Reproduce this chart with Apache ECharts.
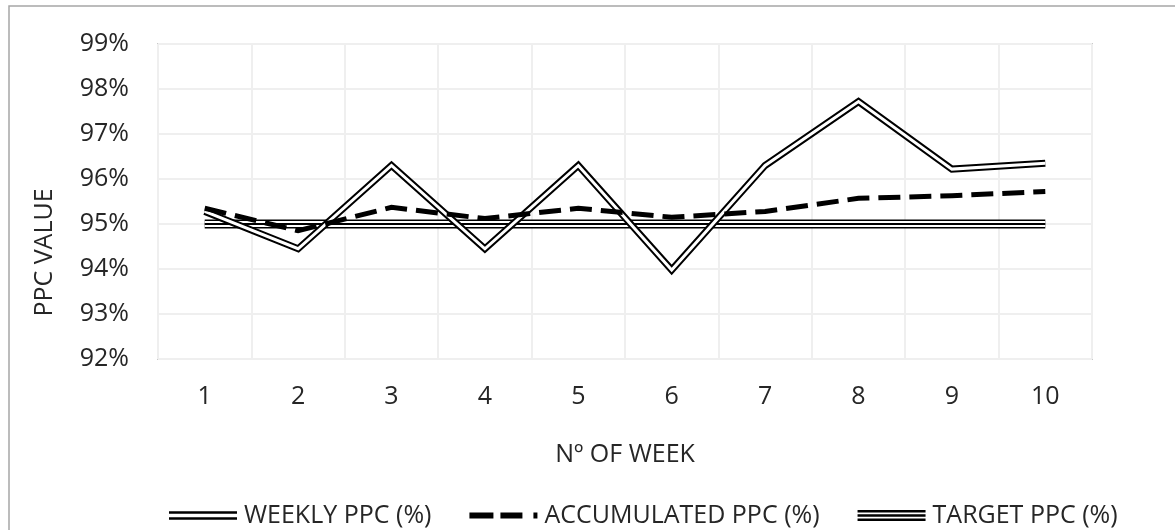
<!DOCTYPE html>
<html>
<head>
<meta charset="utf-8">
<script src="https://cdn.jsdelivr.net/npm/echarts@6/dist/echarts.min.js"></script>
<style>
html,body{margin:0;padding:0;background:#fff;}
#chart{width:1175px;height:530px;}
</style>
</head>
<body>
<div id="chart"></div>
<script>
var weeks = ['1','2','3','4','5','6','7','8','9','10'];
var weeklyPPC = [95.28, 94.45, 96.3, 94.45, 96.3, 93.98, 96.3, 97.72, 96.22, 96.35];
var accumulatedPPC = [95.35, 94.85, 95.37, 95.12, 95.35, 95.15, 95.28, 95.57, 95.63, 95.72];
var targetPPC = [95, 95, 95, 95, 95, 95, 95, 95, 95, 95];
var yMin = 92, yMax = 99, yStep = 1;

var FONT = 'Open Sans';
var TXT = '#262626';
var chart = echarts.init(document.getElementById('chart'), null, {renderer: 'canvas'});

function lineSeries(name, data, color, width, type, z) {
  return {
    name: name, type: 'line', data: data, symbol: 'none', z: z,
    silent: true, animation: false,
    lineStyle: {color: color, width: width, type: type || 'solid', cap: 'butt', join: 'miter'},
    itemStyle: {color: color}
  };
}

var option = {
  backgroundColor: '#fff',
  animation: false,
  graphic: [{
    type: 'rect', silent: true, z: -10,
    shape: {x: 9, y: 6, width: 1200, height: 600},
    style: {fill: 'none', stroke: '#a6a6a6', lineWidth: 1.5}
  }],
  grid: {left: 158, right: 83, top: 44, bottom: 171, show: true, borderColor: '#c9c9c9', borderWidth: 2, backgroundColor: 'transparent'},
  xAxis: {
    type: 'category', data: weeks, boundaryGap: true,
    name: 'Nº OF WEEK', nameLocation: 'middle', nameGap: 83,
    nameTextStyle: {fontFamily: FONT, fontSize: 25, color: TXT},
    axisLine: {show: false}, axisTick: {show: false},
    axisLabel: {fontFamily: FONT, fontSize: 25, color: TXT, margin: 25},
    splitLine: {show: true, interval: 0, lineStyle: {color: '#efefef', width: 2}}
  },
  yAxis: {
    type: 'value', min: yMin, max: yMax, interval: yStep,
    name: 'PPC VALUE', nameLocation: 'middle', nameGap: 101, nameRotate: 90,
    nameTextStyle: {fontFamily: FONT, fontSize: 25, color: TXT, padding: [0, 102, 0, 0]},
    axisLine: {show: false}, axisTick: {show: false},
    axisLabel: {fontFamily: FONT, fontSize: 25, color: TXT, margin: 29, formatter: '{value}%'},
    splitLine: {show: true, lineStyle: {color: '#efefef', width: 2}}
  },
  legend: {
    left: 164, top: 498, itemGap: 38, itemWidth: 68, itemHeight: 11,
    selectedMode: false,
    textStyle: {fontFamily: FONT, fontSize: 25, color: TXT, padding: [0, 0, 0, 2]},
    data: [
      {name: 'WEEKLY PPC (%)', icon: 'path://M0,1.25H68V3.75H0Z M0,7.25H68V9.75H0Z'},
      {name: 'ACCUMULATED PPC (%)', icon: 'path://M0,2.5H24V8.5H0Z M31,2.5H53V8.5H31Z M64,2.5H68V8.5H64Z'},
      {name: 'TARGET PPC (%)', icon: 'path://M0,0H68V2.6H0Z M0,4.2H68V6.8H0Z M0,8.4H68V11H0Z'}
    ]
  },
  series: [
    lineSeries('TARGET PPC (%)', targetPPC, '#000', 9, 'solid', 2),
    lineSeries('_t1', targetPPC, '#fff', 6, 'solid', 3),
    lineSeries('_t2', targetPPC, '#000', 2, 'solid', 4),
    lineSeries('WEEKLY PPC (%)', weeklyPPC, '#000', 7, 'solid', 5),
    lineSeries('_w1', weeklyPPC, '#fff', 3, 'solid', 6),
    lineSeries('ACCUMULATED PPC (%)', accumulatedPPC, '#000', 5, [22, 9], 7)
  ]
};
chart.setOption(option);
</script>
</body>
</html>
